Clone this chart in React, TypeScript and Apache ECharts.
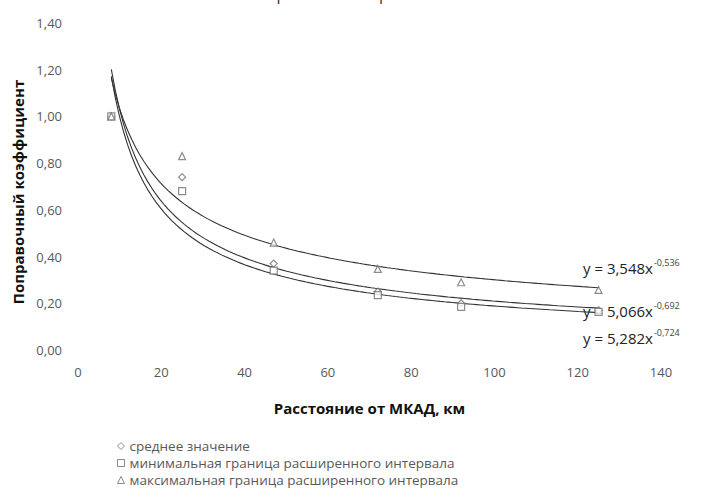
import React, { useEffect, useRef } from "react";
import * as echarts from "echarts";

const distances = [8, 25, 47, 72, 92, 125];
const avgValues = [1.0, 0.74, 0.37, 0.25, 0.2, 0.17];
const minValues = [1.0, 0.68, 0.34, 0.235, 0.185, 0.163];
const maxValues = [1.0, 0.83, 0.46, 0.347, 0.29, 0.257];

const seriesNames = [
  "среднее значение",
  "минимальная граница расширенного интервала",
  "максимальная граница расширенного интервала",
];

// Power trendline coefficients y = a * x^b, as printed on the chart
const trendA = [5.066, 5.282, 3.548];
const trendB = [-0.692, -0.724, -0.536];
const trendLabels = ["5,066", "5,282", "3,548"];
const trendExpLabels = ["-0,692", "-0,724", "-0,536"];

const yTicks = [0, 0.2, 0.4, 0.6, 0.8, 1.0, 1.2, 1.4];
const xTicks = [0, 20, 40, 60, 80, 100, 120, 140];

const FONT = "'Open Sans', 'Noto Sans', sans-serif";

function trendPoints(a: number, b: number): number[][] {
  const pts: number[][] = [];
  const x0 = distances[0];
  const x1 = distances[distances.length - 1];
  const n = 120;
  for (let i = 0; i <= n; i++) {
    const x = x0 + ((x1 - x0) * i) / n;
    pts.push([x, a * Math.pow(x, b)]);
  }
  return pts;
}

export default function App() {
  const ref = useRef<HTMLDivElement>(null);
  useEffect(() => {
    if (!ref.current) return;
    const chart = echarts.init(ref.current, null, { renderer: "svg" });
    const valueSets = [avgValues, minValues, maxValues];
    const symbols = ["diamond", "rect", "triangle"];
    const symbolSizes = [7, 7, 7];
    const scatter = valueSets.map((vals, i) => ({
      name: seriesNames[i],
      type: "scatter",
      data: distances.map((d, j) => [d, vals[j]]),
      symbol: symbols[i],
      symbolSize: symbolSizes[i],
      itemStyle: { color: "#ffffff", borderColor: "#6f6f6f", borderWidth: 1.2 },
      z: 3,
    }));
    const lines = trendA.map((a, i) => ({
      name: "trend" + i,
      type: "line",
      data: trendPoints(a, trendB[i]),
      showSymbol: false,
      symbol: "none",
      smooth: false,
      lineStyle: { color: "#333333", width: 1.1 },
      z: 2,
    }));
    const eqTops = [301, 328, 258];
    const eqGraphics = trendA.map((_, i) => ({
      type: "text",
      left: 583,
      top: eqTops[i],
      style: {
        text: "{b|y = " + trendLabels[i] + "x}{s|" + trendExpLabels[i] + "}",
        rich: {
          b: { fontSize: 15, fontFamily: FONT, fill: "#222222", verticalAlign: "bottom" },
          s: { fontSize: 9, fontFamily: FONT, fill: "#444444", padding: [0, 0, 8, 1], verticalAlign: "bottom" },
        },
      },
    }));
    const legendTops = [439, 456, 473];
    const legends = seriesNames.map((n, i) => ({
      data: [{ name: n, icon: symbols[i] }],
      orient: "vertical",
      left: 117,
      top: legendTops[i],
      itemWidth: 7,
      itemHeight: 7,
      itemGap: 0,
      padding: 0,
      selectedMode: false,
      textStyle: { color: "#595959", fontSize: 13.5, fontFamily: FONT },
      itemStyle: { color: "#ffffff", borderColor: "#6f6f6f", borderWidth: 1 },
    }));
    chart.setOption({
      animation: false,
      backgroundColor: "#ffffff",
      grid: { left: 78, right: 49, top: 23, bottom: 147, containLabel: false },
      xAxis: {
        type: "value",
        min: xTicks[0],
        max: xTicks[xTicks.length - 1],
        interval: 20,
        axisLine: { show: false },
        axisTick: { show: false },
        splitLine: { show: false },
        axisLabel: { color: "#595959", fontSize: 13, fontFamily: FONT, margin: 15 },
        name: "Расстояние от МКАД, км",
        nameLocation: "middle",
        nameGap: 50,
        nameTextStyle: { color: "#111111", fontSize: 15, fontWeight: "bold", fontFamily: FONT },
      },
      yAxis: {
        type: "value",
        min: yTicks[0],
        max: yTicks[yTicks.length - 1],
        interval: 0.2,
        axisLine: { show: false },
        axisTick: { show: false },
        splitLine: { show: false },
        axisLabel: {
          color: "#595959",
          fontSize: 13,
          fontFamily: FONT,
          margin: 16,
          formatter: (v: number) => v.toFixed(2).replace(".", ","),
        },
      },
      legend: legends,
      graphic: [
        {
          type: "text",
          left: 226,
          top: -14,
          style: { text: "Расширенный интервал", fontSize: 16, fontFamily: FONT, fill: "#333333" },
        },
        {
          type: "text",
          x: 18,
          y: 192,
          rotation: Math.PI / 2,
          style: {
            text: "Поправочный коэффициент",
            fontSize: 15,
            fontWeight: "bold",
            fontFamily: FONT,
            fill: "#111111",
            align: "center",
            verticalAlign: "middle",
          },
        },
        ...eqGraphics,
      ],
      series: [...lines, ...scatter],
    });
    return () => chart.dispose();
  }, []);
  return <div ref={ref} style={{ position: "fixed", left: 0, top: 0, width: 710, height: 497 }} />;
}
